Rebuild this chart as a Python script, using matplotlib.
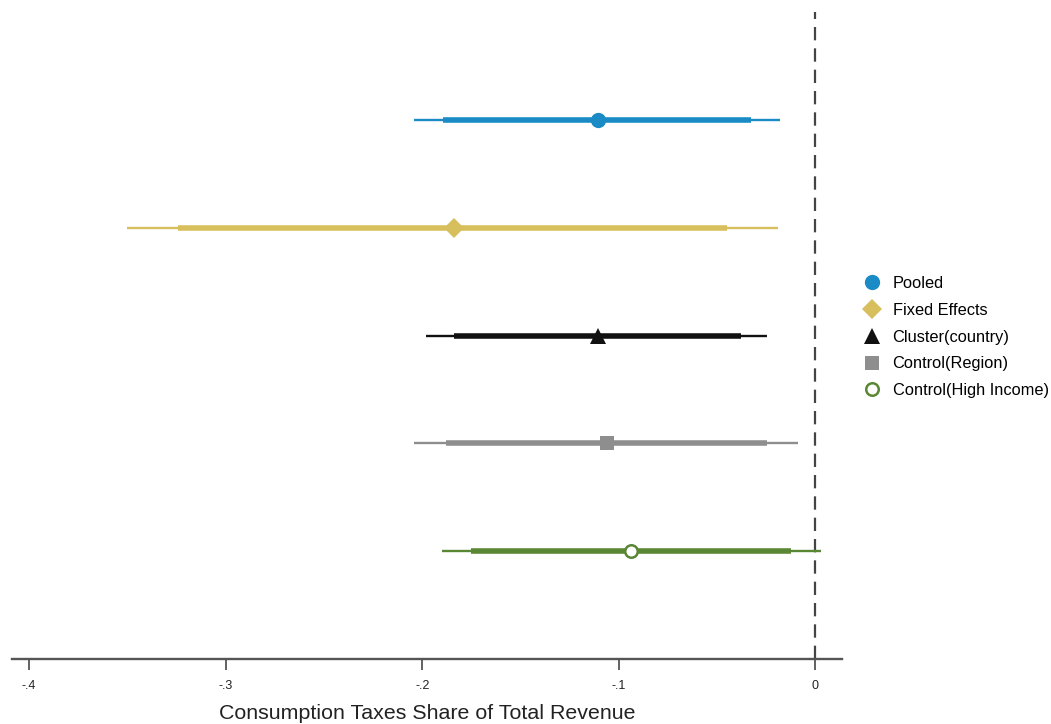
import matplotlib
matplotlib.use("Agg")
import matplotlib.pyplot as plt
from matplotlib.lines import Line2D

plt.rcParams['font.family'] = ['Liberation Sans', 'DejaVu Sans']

# estimates
models = ['Pooled', 'Fixed Effects', 'Cluster(country)', 'Control(Region)', 'Control(High Income)']
coef = [-0.1107, -0.184, -0.1107, -0.106, -0.0939]
ci95_lo = [-0.204, -0.350, -0.198, -0.204, -0.190]
ci95_hi = [-0.0178, -0.0188, -0.0244, -0.0086, 0.003]
ci90_lo = [-0.1893, -0.324, -0.184, -0.188, -0.175]
ci90_hi = [-0.0325, -0.045, -0.038, -0.0244, -0.0122]

colors = ['#1a8bc4', '#d8bf5e', '#111111', '#8e8e8e', '#5a8734']
markers = ['o', 'D', '^', 's', 'o']
msizes = [11, 10, 11, 10, 9]

fig = plt.figure(figsize=(10.51, 7.24), dpi=100)
ax = fig.add_axes([0.0114, 0.0898, 0.790, 0.8936])

ypos = [5, 4, 3, 2, 1]
handles = []
for i, name in enumerate(models):
    y = ypos[i]
    c = colors[i]
    ax.plot([ci95_lo[i], ci95_hi[i]], [y, y], color=c, lw=1.7, solid_capstyle='butt', zorder=2)
    ax.plot([ci90_lo[i], ci90_hi[i]], [y, y], color=c, lw=4.0, solid_capstyle='butt', zorder=3)
    hollow = (i == 4)
    ax.plot(coef[i], y, marker=markers[i], ms=msizes[i], color=c,
            mfc='white' if hollow else c, mec=c, mew=1.8 if hollow else 0, zorder=4)
    handles.append(Line2D([], [], ls='none', marker=markers[i], ms=msizes[i],
                          color=c, mfc='white' if hollow else c, mec=c,
                          mew=1.8 if hollow else 0, label=name))

ax.axvline(0, color='#444444', lw=1.6, ls=(0, (6, 3.6)), zorder=1)

ax.set_xlim(-0.4087, 0.0137)
ax.set_ylim(0, 6)
ax.set_yticks([])
for s in ['top', 'right', 'left']:
    ax.spines[s].set_visible(False)
ax.spines['bottom'].set_color('#555555')
ax.spines['bottom'].set_linewidth(1.7)

xt = [-0.4, -0.3, -0.2, -0.1, 0]
ax.set_xticks(xt)
ax.set_xticklabels(['-.4', '-.3', '-.2', '-.1', '0'])
ax.tick_params(axis='x', direction='out', length=8, width=1.3, color='#555555',
               labelsize=9, pad=7, labelcolor='#222222')
ax.set_xlabel('Consumption Taxes Share of Total Revenue', fontsize=15.4, labelpad=9, color='#222222')

fig.legend(handles=handles, loc='center left', bbox_to_anchor=(0.815, 0.5345),
           frameon=False, fontsize=11.8, handletextpad=0.7, labelspacing=0.72,
           handlelength=1.1, borderaxespad=0)

fig.savefig('out.png', dpi=100)
